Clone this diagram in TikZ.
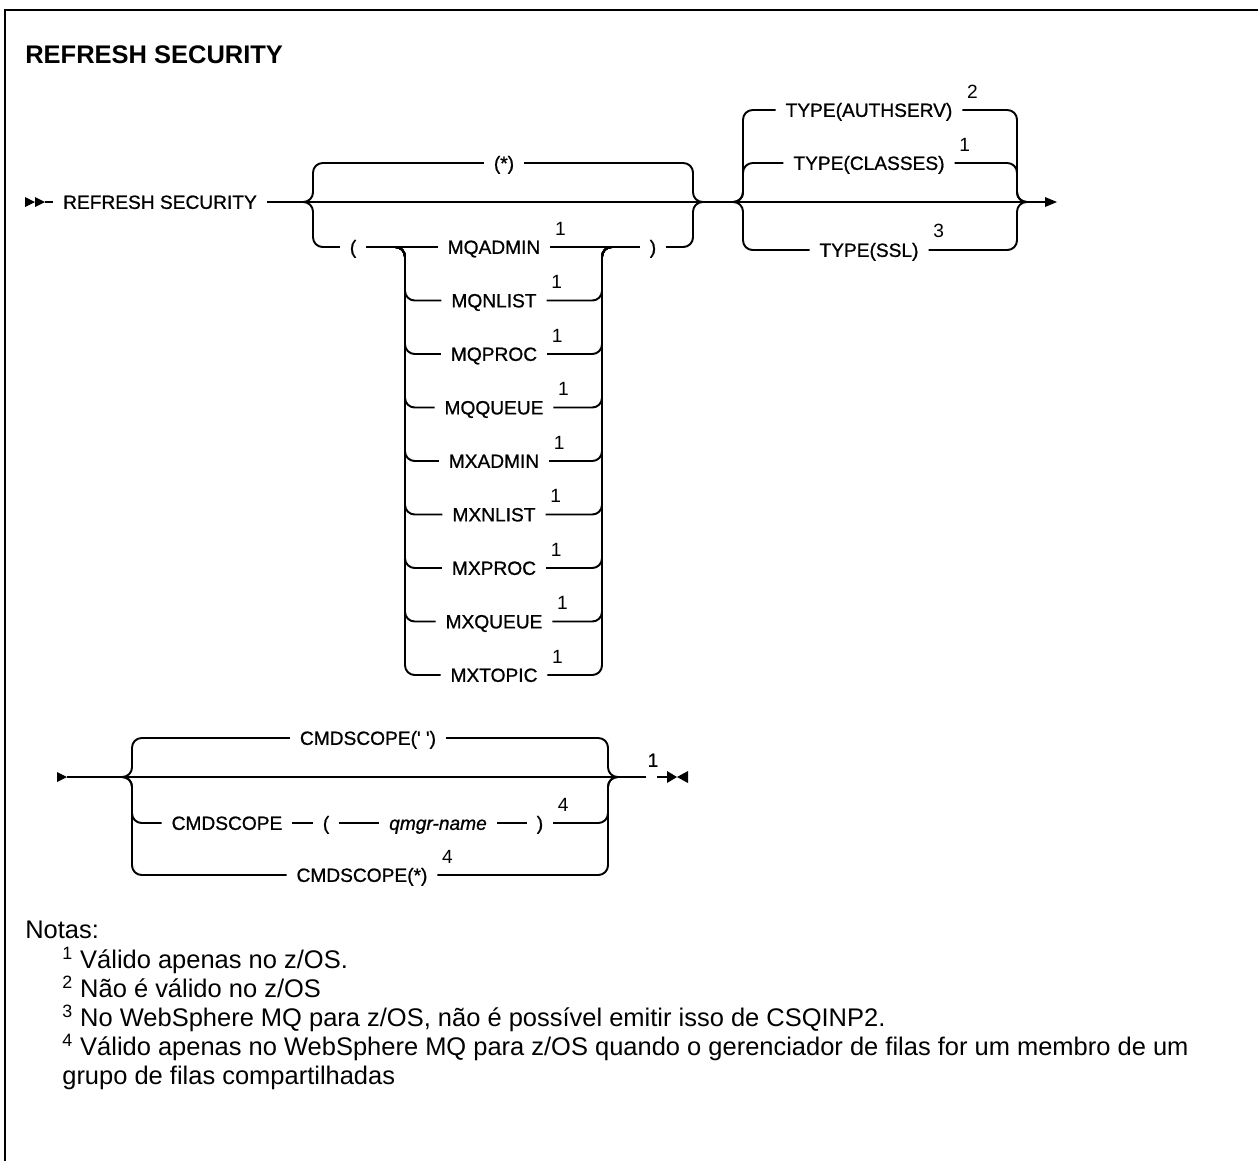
\documentclass[tikz,border=0pt]{standalone}
\usepackage{fontspec}
\setmainfont{Liberation Sans}
\newfontfamily\railfont[FakeBold=0.9]{Liberation Sans}
\tikzset{
    via/.style={line width=1.1pt, rounded corners=5.5pt},
    opcion/.style={font=\railfont\fontsize{10.9}{13}\selectfont, inner xsep=5.5pt, inner ysep=1pt, text height=7.8pt, text depth=0pt},
    llamada/.style={font=\fontsize{10.9}{13}\selectfont, inner xsep=2.5pt, inner ysep=1.5pt, anchor=south west},
    texto/.style={font=\fontsize{14.5}{17}\selectfont, inner sep=0pt, anchor=west, text height=10.4pt, text depth=3pt}
}
\begin{document}
\begin{tikzpicture}[x=0.02cm, y=-0.02cm]
            \useasboundingbox (0,0) rectangle (1258,1161);

            % Marco
            \draw[line width=1.5pt] (5,1161) -- (5,10) -- (1258,10);

            % Titulo
            \node[anchor=west, inner sep=0pt, font=\fontsize{14.5}{17}\selectfont\bfseries] (titulo) at (25,55) {REFRESH SECURITY};

            % Comando y linea principal
            \fill (25,197) -- (35,202) -- (25,207) -- cycle;
            \fill (35,197) -- (45,202) -- (35,207) -- cycle;
            \node[opcion] (refresh) at (160,202) {REFRESH SECURITY};
            \draw[via] (45,202) -- (refresh.west);
            \draw[via] (refresh.east) -- (1045,202);
            \fill (1045,197) -- (1057,202) -- (1045,207) -- cycle;

            % Opciones (*) y ( ... )
            \node[opcion] (todos) at (504,163) {(*)};
            \node[opcion] (lpar) at (353,247) {(};
            \node[opcion] (rpar) at (653,247) {)};
            \draw[via] (303,202) -- (313,202) -- (313,163) -- (todos.west);
            \draw[via] (todos.east) -- (693,163) -- (693,202) -- (703,202);
            \draw[via] (303,202) -- (313,202) -- (313,247) -- (lpar.west);
            \draw[via] (rpar.east) -- (693,247) -- (693,202) -- (703,202);

            % Lista de clases
            \node[opcion] (mqadmin) at (494,247) {MQADMIN};
            \node[opcion] (mqnlist) at (494,300.5) {MQNLIST};
            \node[opcion] (mqproc) at (494,354) {MQPROC};
            \node[opcion] (mqqueue) at (494,407.5) {MQQUEUE};
            \node[opcion] (mxadmin) at (494,461) {MXADMIN};
            \node[opcion] (mxnlist) at (494,514.5) {MXNLIST};
            \node[opcion] (mxproc) at (494,568) {MXPROC};
            \node[opcion] (mxqueue) at (494,621.5) {MXQUEUE};
            \node[opcion] (mxtopic) at (494,675) {MXTOPIC};
            \node[llamada] at (mqadmin.north east) {1};
            \node[llamada] at (mqnlist.north east) {1};
            \node[llamada] at (mqproc.north east) {1};
            \node[llamada] at (mqqueue.north east) {1};
            \node[llamada] at (mxadmin.north east) {1};
            \node[llamada] at (mxnlist.north east) {1};
            \node[llamada] at (mxproc.north east) {1};
            \node[llamada] at (mxqueue.north east) {1};
            \node[llamada] at (mxtopic.north east) {1};

            % Rama principal de la lista
            \draw[via] (lpar.east) -- (mqadmin.west);
            \draw[via] (mqadmin.east) -- (rpar.west);

            % Ramas izquierdas
            \draw[via] (395,247) -- (405,247) -- (405,300.5) -- (mqnlist.west);
            \draw[via] (395,247) -- (405,247) -- (405,354) -- (mqproc.west);
            \draw[via] (395,247) -- (405,247) -- (405,407.5) -- (mqqueue.west);
            \draw[via] (395,247) -- (405,247) -- (405,461) -- (mxadmin.west);
            \draw[via] (395,247) -- (405,247) -- (405,514.5) -- (mxnlist.west);
            \draw[via] (395,247) -- (405,247) -- (405,568) -- (mxproc.west);
            \draw[via] (395,247) -- (405,247) -- (405,621.5) -- (mxqueue.west);
            \draw[via] (395,247) -- (405,247) -- (405,675) -- (mxtopic.west);

            % Ramas derechas
            \draw[via] (mqnlist.east) -- (602,300.5) -- (602,247) -- (612,247);
            \draw[via] (mqproc.east) -- (602,354) -- (602,247) -- (612,247);
            \draw[via] (mqqueue.east) -- (602,407.5) -- (602,247) -- (612,247);
            \draw[via] (mxadmin.east) -- (602,461) -- (602,247) -- (612,247);
            \draw[via] (mxnlist.east) -- (602,514.5) -- (602,247) -- (612,247);
            \draw[via] (mxproc.east) -- (602,568) -- (602,247) -- (612,247);
            \draw[via] (mxqueue.east) -- (602,621.5) -- (602,247) -- (612,247);
            \draw[via] (mxtopic.east) -- (602,675) -- (602,247) -- (612,247);

            % Opciones TYPE
            \node[opcion] (authserv) at (869,110) {TYPE(AUTHSERV)};
            \node[opcion] (classes) at (869,163) {TYPE(CLASSES)};
            \node[opcion] (ssl) at (869,250) {TYPE(SSL)};
            \node[llamada] at (authserv.north east) {2};
            \node[llamada] at (classes.north east) {1};
            \node[llamada] at (ssl.north east) {3};
            \draw[via] (733,202) -- (743,202) -- (743,110) -- (authserv.west);
            \draw[via] (733,202) -- (743,202) -- (743,163) -- (classes.west);
            \draw[via] (733,202) -- (743,202) -- (743,250) -- (ssl.west);
            \draw[via] (authserv.east) -- (1017,110) -- (1017,202) -- (1027,202);
            \draw[via] (classes.east) -- (1017,163) -- (1017,202) -- (1027,202);
            \draw[via] (ssl.east) -- (1017,250) -- (1017,202) -- (1027,202);

            % Segunda linea
            \fill (57,772) -- (67,777) -- (57,782) -- cycle;
            \draw[via] (67,777) -- (646,777);
            \node[opcion, inner sep=1pt] (fin) at (653,760) {1};
            \draw[via] (657,777) -- (667,777);
            \fill (667,771) -- (677,777) -- (667,783) -- cycle;
            \fill (688,771) -- (677,777) -- (688,783) -- cycle;

            % Opciones CMDSCOPE
            \node[opcion] (blanco) at (368,738) {CMDSCOPE(\textquotesingle\ \textquotesingle)};
            \node[opcion] (cmdscope) at (227,823) {CMDSCOPE};
            \node[opcion] (lpar2) at (326,823) {(};
            \node[opcion] (qmgr) at (438,823) {\textit{qmgr-name}};
            \node[opcion] (rpar2) at (540,823) {)};
            \node[opcion] (grupo) at (362,875) {CMDSCOPE(*)};
            \node[llamada] at (rpar2.north east) {4};
            \node[llamada] at (grupo.north east) {4};
            \draw[via] (cmdscope.east) -- (lpar2.west);
            \draw[via] (lpar2.east) -- (qmgr.west);
            \draw[via] (qmgr.east) -- (rpar2.west);
            \draw[via] (122,777) -- (132,777) -- (132,738) -- (blanco.west);
            \draw[via] (122,777) -- (132,777) -- (132,823) -- (cmdscope.west);
            \draw[via] (122,777) -- (132,777) -- (132,875) -- (grupo.west);
            \draw[via] (blanco.east) -- (608,738) -- (608,777) -- (618,777);
            \draw[via] (rpar2.east) -- (608,823) -- (608,777) -- (618,777);
            \draw[via] (grupo.east) -- (608,875) -- (608,777) -- (618,777);

            % Notas
            \node[texto] (notas) at (25,932) {Notas:};
            \node[texto] (nota1) at (62,962) {\textsuperscript{1} Válido apenas no z/OS.};
            \node[texto] (nota2) at (62,991) {\textsuperscript{2} Não é válido no z/OS};
            \node[texto] (nota3) at (62,1020) {\textsuperscript{3} No WebSphere MQ para z/OS, não é possível emitir isso de CSQINP2.};
            \node[texto] (nota4) at (62,1049) {\textsuperscript{4} Válido apenas no WebSphere MQ para z/OS quando o gerenciador de filas for um membro de um};
            \node[texto] (nota5) at (62,1078) {grupo de filas compartilhadas};

\end{tikzpicture}
\end{document}
